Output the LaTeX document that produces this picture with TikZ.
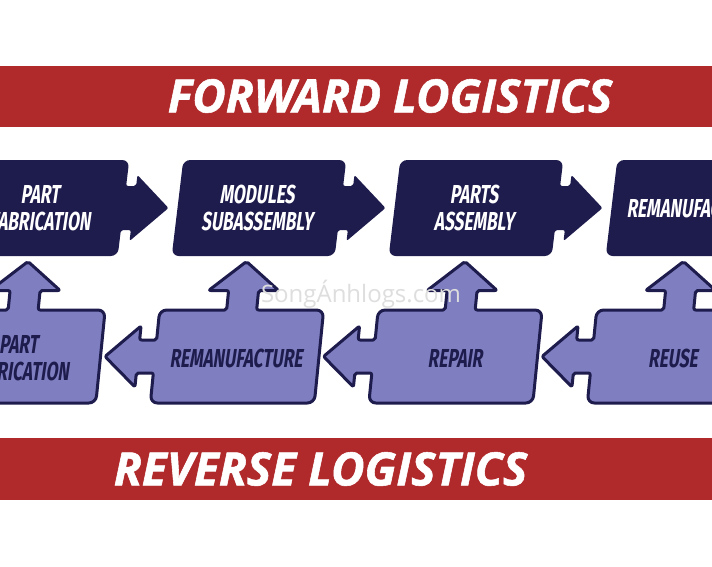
\documentclass[tikz,border=0pt]{standalone}
\usepackage{fontspec}
\newfontfamily\boxfont{Fira Sans}[FakeStretch=0.66,FakeSlant=0.15]
\newfontfamily\titlefont{Open Sans}[FakeBold=1.2]
\newfontfamily\wmfont{Open Sans}
\definecolor{navy}{HTML}{1E1B4D}
\definecolor{lav}{HTML}{7F7EC0}
\definecolor{bandred}{HTML}{B0292B}
\begin{document}
\begin{tikzpicture}[x=1pt,y=-1pt,
  fwdshape/.style={fill=navy},
  revshape/.style={fill=lav,draw=navy,line width=3pt,line join=round},
  fwdtext/.style={text=white,font=\boxfont\bfseries\fontsize{26}{27}\selectfont,align=center,inner sep=0pt},
  revtext/.style={text=navy,font=\boxfont\bfseries\fontsize{26}{27}\selectfont,align=center,inner sep=0pt},
  titletext/.style={text=white,font=\titlefont\bfseries\itshape\fontsize{46}{46}\selectfont,inner sep=0pt},
  bandstyle/.style={fill=bandred}]
\useasboundingbox (0,0) rectangle (712,566);
\fill[white] (0,0) rectangle (712,566);
\clip (0,0) rectangle (712,566);

% bands
\fill[bandstyle] (0,66) rectangle (712,127);
\node[titletext] (fwd) at (390,96) {FORWARD LOGISTICS};
\fill[bandstyle] (0,438) rectangle (712,500);
\node[titletext] (rev) at (320.5,469) {REVERSE LOGISTICS};

% forward boxes
\foreach \cx in {42,259,476,693} {
  \begin{scope}[shift={(\cx,208)},xslant=0.12]
    \fill[fwdshape] [rounded corners=7pt] (-81.5,-48) -- (81.5,-48)
      [rounded corners=2pt] -- (81.5,-22) -- (91.5,-22) -- (91.5,-33) -- (126.5,0)
      -- (91.5,33) -- (91.5,22) -- (81.5,22)
      [rounded corners=7pt] -- (81.5,48) -- (-81.5,48) -- cycle;
  \end{scope}
}
\node[fwdtext] (f1) at (40,208) {PART\\FABRICATION};
\node[fwdtext] (f2) at (257,208) {MODULES\\SUBASSEMBLY};
\node[fwdtext] (f3) at (474,208) {PARTS\\ASSEMBLY};
\node[fwdtext] (f4) at (693,208) {REMANUFACTURE};

% reverse boxes
\foreach \cx in {18.5,237,455.5,674} {
  \begin{scope}[shift={(\cx,356.5)},xslant=0.1]
    \filldraw[revshape] [rounded corners=7pt] (-82,-46.5)
      [rounded corners=2pt] -- (-15,-46.5) -- (-15,-66) -- (-35,-66) -- (0,-95)
      -- (35,-66) -- (15,-66) -- (15,-46.5)
      [rounded corners=7pt] -- (82,-46.5) -- (82,46.5) -- (-82,46.5)
      [rounded corners=2pt] -- (-82,16.5) -- (-99,16.5) -- (-99,30.5) -- (-132,0)
      -- (-99,-30.5) -- (-99,-16.5) -- (-82,-16.5)
      [rounded corners=7pt] -- cycle;
  \end{scope}
}
\node[revtext] (r1) at (18.5,358) {PART\\FABRICATION};
\node[revtext] (r2) at (236,358) {REMANUFACTURE};
\node[revtext] (r3) at (455,358) {REPAIR};
\node[revtext] (r4) at (673,358) {REUSE};

% watermark
\node[font=\wmfont\fontsize{24}{24}\selectfont,text=black!13,inner sep=0pt,anchor=base] (wm) at (361,302) {SongÁnhlogs.com};
\end{tikzpicture}
\end{document}
